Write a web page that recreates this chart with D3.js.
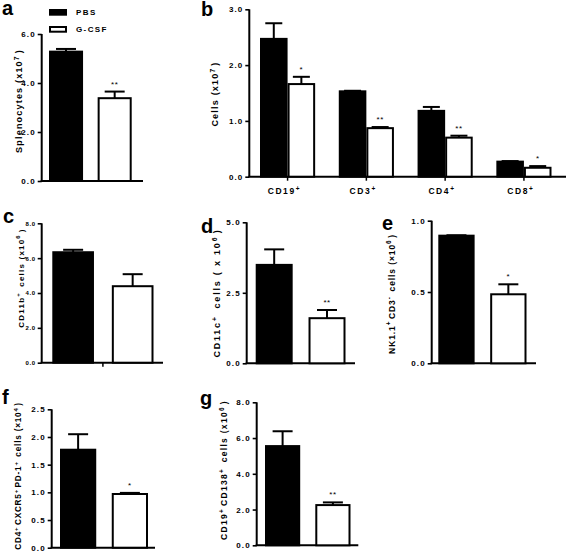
<!DOCTYPE html>
<html><head><meta charset="utf-8">
<script src="https://cdn.jsdelivr.net/npm/d3@7"></script>
<style>
html,body{margin:0;padding:0;background:#fff;}
svg{display:block;font-family:"Liberation Sans",Arial,sans-serif;font-weight:bold;fill:#000;}
</style></head>
<body>
<svg id="chart" width="567" height="553"></svg>
<script>
// ---- data ----
const groups = ["PBS", "G-CSF"];

const splenocytes = [5.28, 3.38];
const splenocytesErr = [0.11, 0.27];
const splenocytesSig = ["", "**"];
const splenocytesTicks = [0, 2, 4, 6];

const subsetCats = ["CD19", "CD3", "CD4", "CD8"];
const subsetPBS = [2.47, 1.53, 1.18, 0.27];
const subsetPBSErr = [0.28, 0.01, 0.07, 0.01];
const subsetGCSF = [1.66, 0.87, 0.70, 0.16];
const subsetGCSFErr = [0.13, 0.02, 0.035, 0.03];
const subsetSig = ["*", "**", "**", "*"];
const subsetTicks = [0, 1, 2, 3];

const cd11b = [6.34, 4.39];
const cd11bErr = [0.14, 0.69];
const cd11bSig = ["", ""];
const cd11bTicks = [0, 2, 4, 6, 8];

const cd11c = [3.49, 1.60];
const cd11cErr = [0.55, 0.29];
const cd11cSig = ["", "**"];
const cd11cTicks = [0, 2.5, 5];

const nkCells = [0.895, 0.484];
const nkCellsErr = [0.003, 0.07];
const nkCellsSig = ["", "*"];
const nkCellsTicks = [0, 0.5, 1];

const tfhCells = [1.77, 0.97];
const tfhCellsErr = [0.28, 0.02];
const tfhCellsSig = ["", "*"];
const tfhCellsTicks = [0, 0.5, 1, 1.5, 2, 2.5];

const plasmaCells = [5.55, 2.25];
const plasmaCellsErr = [0.83, 0.15];
const plasmaCellsSig = ["", "**"];
const plasmaCellsTicks = [0, 2, 4, 6, 8];

// ---- drawing ----
const svg = d3.select("#chart");
const fillFor = g => g === "PBS" ? "#000" : "#fff";

function richText(sel, str, supSize) {
  const parts = str.split(/(\^\{[^}]*\})/).filter(s => s.length);
  parts.forEach(p => {
    const m = p.match(/^\^\{([^}]*)\}$/);
    if (m) {
      sel.append("tspan").attr("dy", -3.5).attr("font-size", supSize).text(m[1]);
      sel.append("tspan").attr("dy", 3.5).text("\u200A");
    } else {
      sel.append("tspan").text(p);
    }
  });
}

function yAxis(g, cfg, y) {
  const ax = d3.axisLeft(y).tickValues(cfg.ticks).tickSize(4).tickPadding(2)
    .tickFormat(d3.format(".1f"));
  const a = g.append("g").attr("transform", `translate(${cfg.axisX},0)`).call(ax);
  a.select(".domain").attr("stroke", "#000").attr("stroke-width", 2).attr("d", `M0,${cfg.yTop}V${cfg.y0}`);
  a.selectAll(".tick line").attr("stroke", "#000").attr("stroke-width", 1.6);
  a.selectAll(".tick text").attr("font-size", cfg.tickFont || 8).attr("font-weight", "bold")
    .attr("letter-spacing", cfg.tickSpacing == null ? 1.1 : cfg.tickSpacing)
    .attr("font-family", "Liberation Sans, Arial, sans-serif").attr("fill", "#000");
  // x axis line
  g.append("line").attr("x1", cfg.axisX - 1).attr("x2", cfg.xEnd)
    .attr("y1", cfg.y0).attr("y2", cfg.y0).attr("stroke", "#000").attr("stroke-width", 2);
  // y label
  const t = g.append("text")
    .attr("transform", `translate(${cfg.labelX},${cfg.labelY}) rotate(-90)`)
    .attr("text-anchor", "middle").attr("font-size", cfg.labelFont || 9).attr("fill", "#000")
    .attr("letter-spacing", cfg.labelSpacing == null ? 1.2 : cfg.labelSpacing);
  richText(t, cfg.label, (cfg.labelFont || 9) * 0.75);
  // panel letter
  g.append("text").attr("x", cfg.letterX).attr("y", cfg.letterY).attr("fill", "#000")
    .attr("font-size", 20).text(cfg.letter);
}

function drawBars(g, data, x, y, y0, capW) {
  // error bars (upper only)
  data.forEach(d => {
    const cx = x(d.key) + x.bandwidth() / 2;
    g.append("line").attr("x1", cx).attr("x2", cx).attr("y1", y(d.v)).attr("y2", y(d.v + d.e))
      .attr("stroke", "#000").attr("stroke-width", 2);
    g.append("line").attr("x1", cx - capW / 2).attr("x2", cx + capW / 2)
      .attr("y1", y(d.v + d.e)).attr("y2", y(d.v + d.e))
      .attr("stroke", "#000").attr("stroke-width", 2);
  });
  g.selectAll(null).data(data).join("rect")
    .attr("x", d => x(d.key) + 1).attr("width", x.bandwidth() - 2)
    .attr("y", d => y(d.v)).attr("height", d => y0 - y(d.v))
    .attr("fill", d => fillFor(d.group)).attr("stroke", "#000").attr("stroke-width", 2);
  g.selectAll(null).data(data.filter(d => d.sig)).join("text")
    .attr("x", d => x(d.key) + x.bandwidth() / 2).attr("y", d => y(d.v + d.e) - 5)
    .attr("text-anchor", "middle").attr("font-size", 8).attr("font-weight", "normal")
    .attr("fill", "#000").attr("letter-spacing", 0.5).text(d => d.sig);
}

function twoBarPanel(cfg, vals, errs, sigs) {
  const g = svg.append("g");
  const y = d3.scaleLinear().domain([0, cfg.max]).range([cfg.y0, cfg.yTop]);
  const x = d3.scaleBand().domain(groups).range(cfg.barRange).paddingInner(0.3).paddingOuter(0);
  yAxis(g, cfg, y);
  if (cfg.centerTick) {
    const cx = (cfg.barRange[0] + cfg.barRange[1]) / 2;
    g.append("line").attr("x1", cx).attr("x2", cx).attr("y1", cfg.y0).attr("y2", cfg.y0 + 4)
      .attr("stroke", "#000").attr("stroke-width", 1.5);
  }
  const data = groups.map((gr, i) => ({ key: gr, group: gr, v: vals[i], e: errs[i], sig: sigs[i] }));
  drawBars(g, data, x, y, cfg.y0, cfg.capW || 20);
  return g;
}

// Panel a
const ga = twoBarPanel({
  axisX: 41.7, y0: 181, yTop: 34, max: 6, xEnd: 143, barRange: [49, 131.7],
  ticks: splenocytesTicks, label: "Splenocytes (x10^{7})", labelX: 22, labelY: 101,
  letter: "a", letterX: 2, letterY: 15
}, splenocytes, splenocytesErr, splenocytesSig);

// legend
groups.forEach((gr, i) => {
  const ly = [9, 26][i];
  ga.append("rect").attr("x", 50).attr("y", ly + 1).attr("width", 16).attr("height", 4.7)
    .attr("fill", fillFor(gr)).attr("stroke", "#000").attr("stroke-width", 2);
  ga.append("text").attr("x", 76).attr("y", ly + 6.3).attr("font-size", 8).attr("fill", "#000")
    .attr("letter-spacing", 1.4).text(gr);
});

// Panel b
(function () {
  const cfg = {
    axisX: 249.3, y0: 176.7, yTop: 9.3, max: 3, xEnd: 566, ticks: subsetTicks,
    label: "Cells (x10^{7})", labelX: 218, labelY: 94, letter: "b", letterX: 201, letterY: 16
  };
  const g = svg.append("g");
  const y = d3.scaleLinear().domain([0, cfg.max]).range([cfg.y0, cfg.yTop]);
  const x0 = d3.scaleBand().domain(subsetCats).range([260, 551.5]).paddingInner(0.3).paddingOuter(0);
  yAxis(g, cfg, y);
  subsetCats.forEach((c, i) => {
    const gg = g.append("g").attr("transform", `translate(${x0(c)},0)`);
    const x1 = d3.scaleBand().domain(groups).range([0, x0.bandwidth()]);
    const data = [
      { key: "PBS", group: "PBS", v: subsetPBS[i], e: subsetPBSErr[i], sig: "" },
      { key: "G-CSF", group: "G-CSF", v: subsetGCSF[i], e: subsetGCSFErr[i], sig: subsetSig[i] }
    ];
    drawBars(gg, data, x1, y, cfg.y0, 17);
    const cx = x0(c) + x0.bandwidth() / 2;
    g.append("line").attr("x1", cx).attr("x2", cx).attr("y1", cfg.y0).attr("y2", cfg.y0 + 4)
      .attr("stroke", "#000").attr("stroke-width", 1.5);
    const t = g.append("text").attr("x", cx - 2).attr("y", 194).attr("fill", "#000")
      .attr("text-anchor", "middle").attr("font-size", 8.5).attr("letter-spacing", 1.6);
    richText(t, c + "^{+}", 6.5);
  });
})();

// Panel c
twoBarPanel({
  axisX: 41.7, y0: 362.7, yTop: 223.3, max: 8, xEnd: 163, barRange: [52.3, 153.5],
  ticks: cd11bTicks, tickFont: 6, tickSpacing: 0.6, centerTick: true,
  label: "CD11b^{+} cells (x10^{6})", labelX: 23.5, labelY: 278, labelFont: 8,
  letter: "c", letterX: 3, letterY: 223
}, cd11b, cd11bErr, cd11bSig);

// Panel d
twoBarPanel({
  axisX: 246.7, y0: 363.3, yTop: 222.3, max: 5, xEnd: 355, barRange: [255.7, 345.5],
  ticks: cd11cTicks,
  label: "CD11c^{+} cells ( x 10^{6})", labelX: 220, labelY: 293, labelSpacing: 1.8,
  letter: "d", letterX: 201, letterY: 233
}, cd11c, cd11cErr, cd11cSig);

// Panel e
twoBarPanel({
  axisX: 431.7, y0: 363.3, yTop: 220.7, max: 1, xEnd: 536, barRange: [438.3, 526.5],
  ticks: nkCellsTicks,
  label: "NK1.1^{+}CD3^{-} cells (\u00D710^{6})", labelX: 394.5, labelY: 294, labelFont: 8.5, labelSpacing: 0.9,
  letter: "e", letterX: 382, letterY: 230
}, nkCells, nkCellsErr, nkCellsSig);

// Panel f
twoBarPanel({
  axisX: 51.7, y0: 547.7, yTop: 409.3, max: 2.5, xEnd: 155, barRange: [60, 148],
  ticks: tfhCellsTicks,
  label: "CD4^{+}CXCR5^{+}PD-1^{+} cells (\u00D710^{4})", labelX: 21, labelY: 476, labelFont: 8.2, labelSpacing: 0.8,
  letter: "f", letterX: 2, letterY: 404
}, tfhCells, tfhCellsErr, tfhCellsSig);

// Panel g
twoBarPanel({
  axisX: 256.7, y0: 545.3, yTop: 402.3, max: 8, xEnd: 358.3, barRange: [265, 350.5],
  ticks: plasmaCellsTicks,
  label: "CD19^{+}CD138^{+} cells (x10^{6})", labelX: 227, labelY: 470, labelFont: 8.5, labelSpacing: 1.3,
  letter: "g", letterX: 200, letterY: 405
}, plasmaCells, plasmaCellsErr, plasmaCellsSig);
</script>
</body></html>
